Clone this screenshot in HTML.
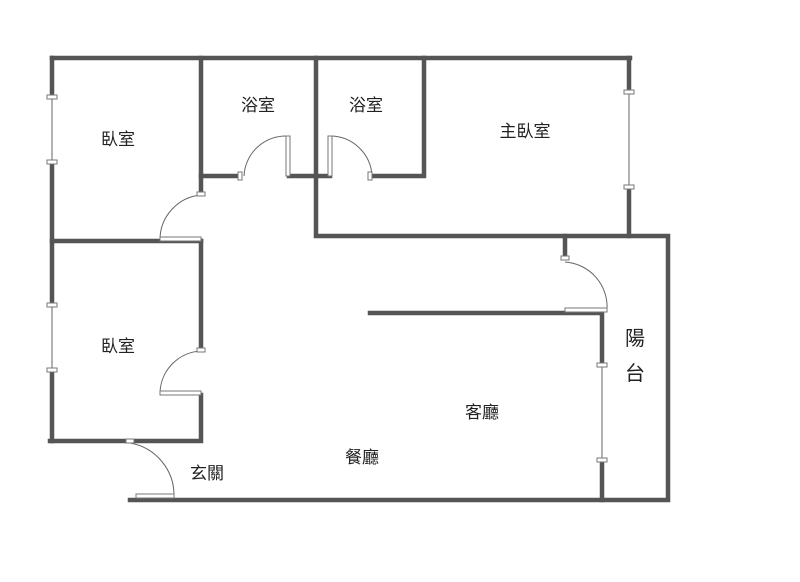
<!DOCTYPE html>
<html><head><meta charset="utf-8"><style>
body{margin:0;background:#fff}
svg text{font-family:"Liberation Sans","Noto Sans CJK TC",sans-serif;font-size:17px;fill:#222;text-anchor:middle}
</style></head><body>
<svg width="800" height="577" viewBox="0 0 800 577">
<g stroke="#555" stroke-width="4.5" fill="none" stroke-linecap="square">
<path d="M52 58H630"/>
<path d="M52 58V97M52 162V305M52 370V441"/>
<path d="M201 58V192M201 241H52"/>
<path d="M201 176H240M289 176H330M372 176H424V58"/>
<path d="M316 58V236H668V500H130"/>
<path d="M629 58V92M629 187V236"/>
<path d="M565 236V258"/>
<path d="M370 313H602V365M602 460V500"/>
<path d="M201 241V350M201 395V441H50"/>
</g>
<g stroke="#666" stroke-width="1" fill="none">
<path d="M52 97V162M52 305V370M629 92V187M602 365V460"/>
<path d="M201 195A45 45 0 0 0 160 240"/>
<path d="M288 136A42 42 0 0 0 244 176"/>
<path d="M330 136A42 42 0 0 1 372 176"/>
<path d="M565 262A45 45 0 0 1 607 310"/>
<path d="M201 351A43 43 0 0 0 160 394"/>
<path d="M130 443A53 53 0 0 1 174 496"/>
</g>
<g stroke="#777" stroke-width="1" fill="#fff">
<rect x="47" y="95" width="10" height="4"/><rect x="47" y="160" width="10" height="4"/>
<rect x="47" y="303" width="10" height="4"/><rect x="47" y="368" width="10" height="4"/>
<rect x="624" y="90" width="10" height="4"/><rect x="624" y="185" width="10" height="4"/>
<rect x="597" y="363" width="10" height="4"/><rect x="597" y="458" width="10" height="4"/>
<rect x="160" y="237" width="41" height="4"/><rect x="286" y="136" width="4" height="40"/>
<rect x="328" y="136" width="4" height="40"/><rect x="565" y="308" width="42" height="4"/>
<rect x="160" y="391" width="41" height="4"/><rect x="136" y="494" width="38" height="4"/>
<rect x="197" y="192" width="8" height="4"/><rect x="238" y="172" width="4" height="8"/>
<rect x="368" y="172" width="4" height="8"/><rect x="561" y="256" width="8" height="4"/>
<rect x="197" y="348" width="8" height="4"/><rect x="126" y="439" width="8" height="4"/>
</g>
<text x="118" y="145">臥室</text>
<text x="258" y="111">浴室</text>
<text x="366" y="111">浴室</text>
<text x="525" y="137">主臥室</text>
<text x="118" y="352">臥室</text>
<text x="635" y="345" style="font-size:20px">陽</text>
<text x="635" y="380" style="font-size:20px">台</text>
<text x="482" y="418">客廳</text>
<text x="362" y="463">餐廳</text>
<text x="207" y="479">玄關</text>
</svg>
</body></html>
